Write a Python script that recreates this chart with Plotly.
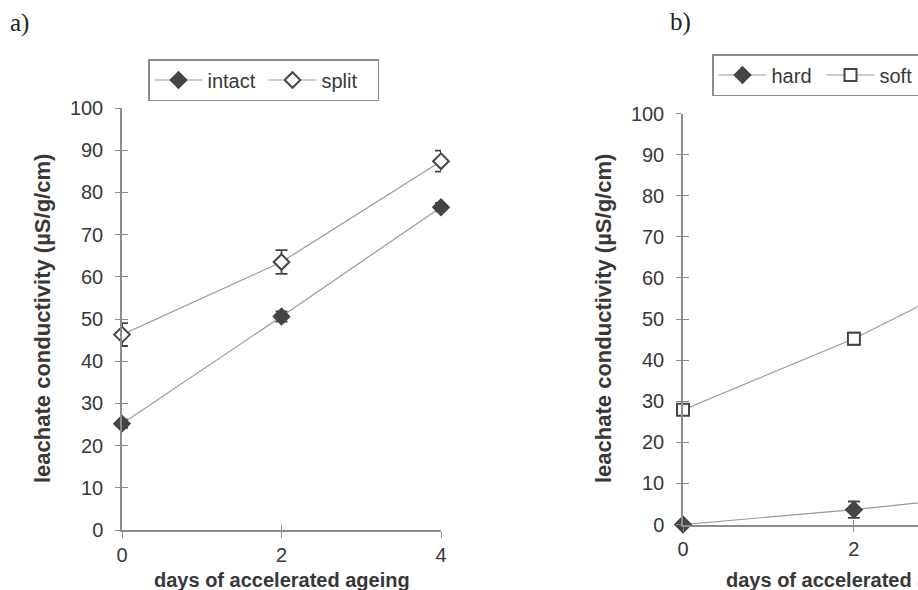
import plotly.graph_objects as go

W, H = 918, 590

days = [0, 2, 4]
intact = [25.2, 50.6, 76.5]
intact_err = [1.0, 1.2, 1.0]
split = [46.3, 63.5, 87.4]
split_err = [2.7, 2.8, 2.5]
hard = [0.0, 3.6, 8.0]
hard_err = [0.0, 2.0, 1.0]
soft = [27.9, 45.2, 66.0]
soft_err = [1.0, 1.5, 1.5]

y_ticks = [0, 10, 20, 30, 40, 50, 60, 70, 80, 90, 100]
x_ticks = [0, 2, 4]
x_title = "days of accelerated ageing"
y_title = "leachate conductivity (µS/g/cm)"

LINE = "#9a9a9a"
MK = "#454545"
AX = "#8c8c8c"
TXT = "#383838"
FONT = "Liberation Sans, Arial, sans-serif"


def px_x(p):
    return p / W


def px_y(p):
    return 1 - p / H


fig = go.Figure()


def add_series(x, y, err, name, xa, ya, symbol, fill, legend):
    fig.add_trace(go.Scatter(
        x=x, y=y, name=name, mode="lines+markers",
        xaxis=xa, yaxis=ya, legend=legend,
        line=dict(color=LINE, width=1.2),
        marker=dict(symbol=symbol, size=12, color=fill,
                    line=dict(color=MK, width=2)),
        error_y=dict(type="data", array=err, visible=True,
                     color=MK, thickness=1.8, width=6),
        cliponaxis=False,
    ))


add_series(days, intact, intact_err, "intact", "x", "y", "diamond", MK, "legend")
add_series(days, split, split_err, "split", "x", "y", "diamond", "white", "legend")
add_series(days, hard, hard_err, "hard", "x2", "y2", "diamond", MK, "legend2")
add_series(days, soft, soft_err, "soft", "x2", "y2", "square", "white", "legend2")

tickfont = dict(family=FONT, size=20, color=TXT)

xa_dom = [px_x(122), px_x(441)]
ya_dom = [px_y(530), px_y(108)]
xb_dom = [px_x(683), 1.0]
yb_dom = [px_y(524.5), px_y(113.5)]

common_y = dict(range=[0, 100], tickvals=y_ticks, showgrid=False, zeroline=False,
                showline=True, linecolor=AX, linewidth=1.5, ticks="outside",
                ticklen=5, tickcolor=AX, tickwidth=1, tickfont=tickfont,
                ticklabelstandoff=8)
common_x = dict(tickvals=x_ticks, showgrid=False, zeroline=False,
                showline=True, linecolor=AX, linewidth=1.5, ticks="outside",
                ticklen=6, tickcolor=AX, tickwidth=1, tickfont=tickfont,
                ticklabelstandoff=0)


def overlay(over, anchor, rng, vals, ln):
    return dict(overlaying=over, anchor=anchor, range=rng, tickvals=vals,
                ticks="inside", ticklen=ln, tickcolor=AX, showticklabels=False,
                showline=False, showgrid=False, zeroline=False)


legend_common = dict(xanchor="left", yanchor="top", orientation="h",
                     bordercolor=AX, borderwidth=1.5, bgcolor="white",
                     itemwidth=48, font=dict(family=FONT, size=20, color=TXT),
                     tracegroupgap=0)

fig.update_layout(
    width=W, height=H,
    margin=dict(l=0, r=0, t=0, b=0, autoexpand=False),
    paper_bgcolor="white", plot_bgcolor="white",
    font=dict(family=FONT, color=TXT),
    xaxis=dict(domain=xa_dom, anchor="y", range=[0, 4], **common_x),
    yaxis=dict(domain=ya_dom, anchor="x", **common_y),
    xaxis2=dict(domain=xb_dom, anchor="y2", range=[0, 2.75], **common_x),
    yaxis2=dict(domain=yb_dom, anchor="x2", **common_y),
    xaxis3=overlay("x", "y", [0, 4], x_ticks, 5),
    yaxis3=overlay("y", "x", [0, 100], y_ticks, 6),
    xaxis4=overlay("x2", "y2", [0, 2.75], x_ticks, 5),
    yaxis4=overlay("y2", "x2", [0, 100], y_ticks, 6),
    legend=dict(x=px_x(148), y=px_y(59), entrywidth=51, **legend_common),
    legend2=dict(x=px_x(712), y=px_y(54), entrywidth=45, **legend_common),
    showlegend=True,
)

for xa, ya in (("x3", "y3"), ("x4", "y4")):
    fig.add_trace(go.Scatter(x=[0], y=[0], xaxis=xa, yaxis=ya, mode="markers",
                             marker=dict(opacity=0), showlegend=False,
                             hoverinfo="skip"))

title_font = dict(family=FONT, size=20, color=TXT)
fig.add_annotation(text="<b>" + x_title + "</b>", xref="x", yref="paper",
                   x=2, y=px_y(580), showarrow=False, font=title_font,
                   xanchor="center", yanchor="middle")
fig.add_annotation(text="<b>" + x_title + "</b>", xref="x2", yref="paper",
                   x=2, y=px_y(580), showarrow=False, font=title_font,
                   xanchor="center", yanchor="middle")
ytf = dict(family=FONT, size=22, color=TXT)
fig.add_annotation(text="<b>" + y_title + "</b>", xref="paper", yref="paper",
                   x=px_x(42), y=px_y(319), textangle=-90, showarrow=False,
                   font=ytf, xanchor="center", yanchor="middle")
fig.add_annotation(text="<b>" + y_title + "</b>", xref="paper", yref="paper",
                   x=px_x(603), y=px_y(319), textangle=-90, showarrow=False,
                   font=ytf, xanchor="center", yanchor="middle")

lab_font = dict(family="Liberation Serif, Times New Roman, serif", size=25,
                color="#222222")
fig.add_annotation(text="a)", xref="paper", yref="paper", x=px_x(8),
                   y=px_y(23), showarrow=False, font=lab_font,
                   xanchor="left", yanchor="middle")
fig.add_annotation(text="b)", xref="paper", yref="paper", x=px_x(668),
                   y=px_y(22), showarrow=False, font=lab_font,
                   xanchor="left", yanchor="middle")

fig.write_html("out.html")
